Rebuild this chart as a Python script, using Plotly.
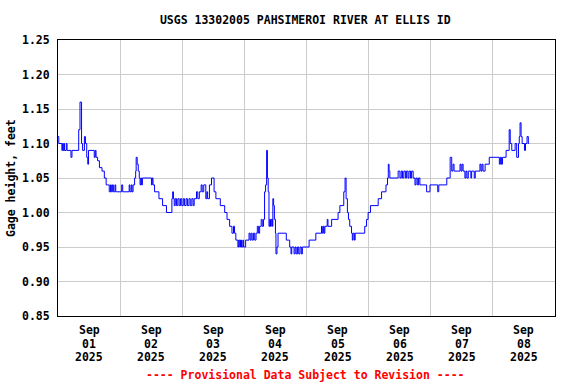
import pandas as pd
import plotly.graph_objects as go

# Hours after 2025-09-01 00:00 (local) and gage height (feet), stepped series
hours = [
    0.0, 0.3, 1.5, 1.8, 2.0, 2.3, 2.5, 3.2, 3.5, 5.0, 5.4, 8.0, 8.5, 9.1, 9.5, 10.2, 10.6,
    11.1, 11.5, 11.8, 14.0, 14.4, 14.7, 15.3, 16.0, 17.0, 17.9, 18.6, 19.2, 19.8, 20.3,
    20.6, 21.0, 21.4, 22.0, 22.3, 24.6, 25.0, 27.5, 27.8, 28.3, 28.6, 29.0, 29.6, 30.0, 30.2, 30.6,
    31.0, 31.4, 31.7, 32.0, 32.3, 32.6, 36.1, 36.4, 36.7, 37.3, 39.0, 40.4, 41.9, 44.0,
    44.3, 44.6, 44.9, 45.3, 45.8, 46.3, 46.8, 47.3, 47.8, 48.4, 48.9, 49.5, 50.0, 50.6,
    51.1, 51.7, 52.2, 52.6, 53.5, 54.0, 54.6, 55.3, 55.7, 56.3, 57.1, 57.5, 57.8, 58.5,
    59.3, 59.7, 60.3, 61.0, 62.7, 64.4, 65.3, 66.3, 67.2, 67.8, 68.2, 68.7, 69.5, 69.8,
    70.2, 70.5, 70.9, 71.4, 71.7, 72.5, 73.8, 74.2, 74.6, 75.0, 75.5, 76.0, 76.5, 77.0,
    77.5, 77.9, 78.5, 78.9, 79.4, 79.8, 80.2, 80.6, 80.9, 81.2, 81.5, 81.8, 82.1, 82.4,
    82.8, 83.0, 83.3, 83.6, 84.0, 84.2, 84.6, 85.0, 88.2, 89.5, 90.0, 90.3, 91.2, 91.6,
    92.0, 92.5, 93.0, 93.5, 94.0, 94.4, 97.0, 99.6, 101.8, 102.1, 102.5, 102.8, 103.1,
    104.0, 104.3, 105.7, 108.2, 108.9, 110.4, 110.9, 111.3, 111.8, 112.2, 112.7, 113.4,
    113.7, 114.0, 114.5, 114.8, 118.5, 119.2, 119.8, 120.7, 123.7, 125.0, 126.7, 127.3,
    127.6, 127.9, 128.2, 131.4, 132.1, 132.6, 133.1, 133.6, 134.2, 134.6, 135.2, 135.6,
    136.2, 136.6, 137.2, 137.9, 138.3, 138.8, 139.3, 139.8, 142.4, 143.7, 146.7, 147.1,
    150.2, 151.5, 152.1, 152.6, 153.0, 155.3, 155.7, 156.1, 156.5, 157.2, 157.6, 158.0,
    158.5, 159.5, 159.8, 160.8, 161.2, 163.0, 163.4, 163.8, 164.2, 165.0, 166.6, 170.5,
    170.9, 171.3, 171.7, 173.1, 174.3, 174.7, 175.3, 176.6, 177.2, 177.9, 178.2, 178.5,
    178.9, 179.3, 180.2, 180.6, 181.2, 181.7, 182.0,
]
gage_ft = [
    1.11, 1.10, 1.09, 1.10, 1.09, 1.10, 1.09, 1.10, 1.09, 1.08, 1.09, 1.12, 1.16, 1.10, 1.09, 1.11, 1.10,
    1.08, 1.07, 1.09, 1.08, 1.09, 1.08, 1.075, 1.065, 1.06, 1.05, 1.04, 1.04, 1.03, 1.04,
    1.03, 1.04, 1.03, 1.04, 1.03, 1.04, 1.03, 1.04, 1.03, 1.04, 1.03, 1.04, 1.05, 1.06, 1.08, 1.07,
    1.06, 1.05, 1.04, 1.05, 1.04, 1.05, 1.04, 1.05, 1.04, 1.03, 1.02, 1.01, 1.00, 1.02,
    1.03, 1.02, 1.01, 1.02, 1.01, 1.02, 1.01, 1.02, 1.01, 1.02, 1.01, 1.02, 1.01, 1.02,
    1.01, 1.02, 1.01, 1.02, 1.03, 1.02, 1.03, 1.04, 1.03, 1.04, 1.02, 1.03, 1.02, 1.04,
    1.05, 1.05, 1.03, 1.02, 1.01, 1.00, 0.99, 0.98, 0.97, 0.98, 0.97, 0.96, 0.95, 0.96,
    0.95, 0.96, 0.95, 0.96, 0.95, 0.96, 0.97, 0.96, 0.97, 0.96, 0.97, 0.96, 0.97, 0.98,
    0.97, 0.98, 0.99, 0.98, 0.99, 1.03, 1.04, 1.09, 1.05, 1.03, 0.98, 0.99, 0.98, 0.99,
    0.98, 1.02, 1.01, 0.99, 0.97, 0.94, 0.95, 0.97, 0.96, 0.95, 0.94, 0.95, 0.94, 0.95,
    0.94, 0.95, 0.94, 0.95, 0.94, 0.95, 0.96, 0.97, 0.98, 0.97, 0.98, 0.97, 0.98,
    0.99, 0.98, 0.99, 1.00, 1.01, 1.03, 1.05, 1.02, 1.00, 0.99, 0.98, 0.97,
    0.96, 0.97, 0.96, 0.97, 0.98, 0.99, 1.00, 1.01, 1.02, 1.03, 1.04, 1.05,
    1.07, 1.06, 1.05, 1.06, 1.05, 1.06, 1.05, 1.06, 1.05, 1.06, 1.05, 1.06,
    1.05, 1.06, 1.05, 1.04, 1.05, 1.04, 1.05, 1.04, 1.03, 1.04, 1.03, 1.04,
    1.05, 1.08, 1.06, 1.07, 1.06, 1.07, 1.06, 1.07, 1.06, 1.05, 1.06, 1.05,
    1.06, 1.05, 1.06, 1.05, 1.06, 1.07, 1.06, 1.07, 1.06, 1.07, 1.08, 1.07,
    1.08, 1.07, 1.08, 1.09, 1.12, 1.10, 1.09, 1.10, 1.08, 1.10, 1.11, 1.13,
    1.11, 1.10, 1.09, 1.10, 1.11, 1.10, 1.10,
]

day_month = ["Sep"] * 8
day_num = ["01", "02", "03", "04", "05", "06", "07", "08"]
day_year = ["2025"] * 8
y_ticks = [0.85, 0.90, 0.95, 1.00, 1.05, 1.10, 1.15, 1.20, 1.25]

start = pd.Timestamp("2025-09-01 00:00")
times = [start + pd.Timedelta(hours=h) for h in hours]
midnights = [start + pd.Timedelta(days=d) for d in range(0, 9)]
noons = [start + pd.Timedelta(days=d, hours=12) for d in range(0, 8)]

FONT = "DejaVu Sans Mono"
PLOT_H = 276  # plot area height in px (for paper offsets of the date lines)


def tfont(color="black"):
    return dict(family=FONT, size=11.5, color=color, weight="bold")


fig = go.Figure(go.Scatter(
    x=times, y=gage_ft, mode="lines", line=dict(color="#0000FF", width=1, shape="hv"),
    hoverinfo="x+y", showlegend=False,
))

annotations = [
    dict(text="Gage height, feet", textangle=-90, xref="paper", yref="paper",
         x=(11 - 58) / 497, y=0.5, xanchor="center", yanchor="middle",
         showarrow=False, font=tfont()),
    dict(text="---- Provisional Data Subject to Revision ----", xref="paper", yref="paper",
         x=(305 - 58) / 497, y=-(375 - 316) / PLOT_H, xanchor="center", yanchor="middle",
         showarrow=False, font=tfont("#FF0000")),
]
for rows, dy in ((day_month, 14.2), (day_num, 27.7), (day_year, 41.2)):
    for t, s in zip(noons, rows):
        annotations.append(dict(text=s, x=t, xref="x", y=-dy / PLOT_H, yref="paper",
                                xanchor="center", yanchor="middle", showarrow=False,
                                font=tfont()))

fig.update_layout(
    width=576, height=384,
    margin=dict(l=58, r=21, t=40, b=68),
    paper_bgcolor="white", plot_bgcolor="white",
    font=tfont(),
    title=dict(text="USGS 13302005 PAHSIMEROI RIVER AT ELLIS ID", x=0.53, xanchor="center",
               y=1 - 20 / 384, yanchor="middle", yref="container", font=tfont()),
    xaxis=dict(
        range=[midnights[0], midnights[-1]],
        tickmode="array", tickvals=noons, showticklabels=False,
        showgrid=False, ticks="",
        showline=True, linecolor="black", linewidth=1, mirror=True,
        minor=dict(tickmode="array", tickvals=midnights, showgrid=True,
                   gridcolor="#cccccc", gridwidth=1, ticks=""),
        zeroline=False,
    ),
    yaxis=dict(
        range=[0.85, 1.25], tickmode="array", tickvals=y_ticks,
        ticktext=[f"{v:.2f}" for v in y_ticks],
        showgrid=True, gridcolor="#cccccc", gridwidth=1,
        ticks="outside", ticklen=5, tickcolor="rgba(0,0,0,0)",
        showline=True, linecolor="black", linewidth=1, mirror=True,
        zeroline=False,
    ),
    annotations=annotations,
)

fig.write_html("out.html", config={"displayModeBar": False},
               post_script="document.body.style.margin='0';")
